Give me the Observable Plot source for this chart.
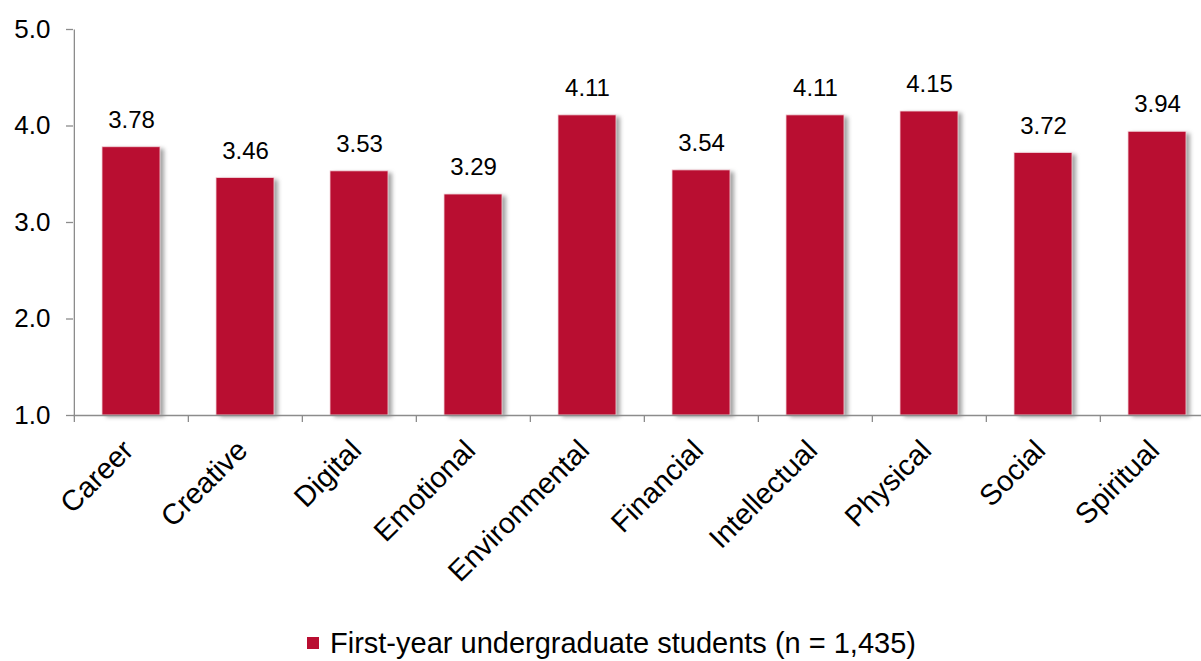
<!DOCTYPE html>
<html>
<head>
<meta charset="utf-8">
<script src="https://cdn.jsdelivr.net/npm/d3@7"></script>
<script src="https://cdn.jsdelivr.net/npm/@observablehq/plot@0.6"></script>
<style>
  html, body { margin: 0; padding: 0; background: #fff; overflow: hidden; }
  body { width: 1201px; height: 661px; font-family: "Liberation Sans", Arial, sans-serif; }
  #legend { position: absolute; left: 307px; top: 624px; height: 38px; display: flex; align-items: center; font-size: 29px; color: #000; white-space: nowrap; }
  #legend .sw { width: 12px; height: 12px; background: #b90e31; margin-right: 11px; }
</style>
</head>
<body>
<div id="chart"></div>
<div id="legend"><span class="sw"></span><span>First-year undergraduate students (n = 1,435)</span></div>
<script>
const categories = ["Career", "Creative", "Digital", "Emotional", "Environmental", "Financial", "Intellectual", "Physical", "Social", "Spiritual"];
const values = [3.78, 3.46, 3.53, 3.29, 4.11, 3.54, 4.11, 4.15, 3.72, 3.94];
const yTicks = [1, 2, 3, 4, 5];
const seriesName = "First-year undergraduate students (n = 1,435)";

const data = categories.map((c, i) => ({category: c, value: values[i]}));
const barColor = "#b90e31";
const axisColor = "#8c8c8c";
const halfStep = (1216 - 73) / categories.length / 2;

const chart = Plot.plot({
  width: 1201,
  height: 615,
  marginTop: 29,
  marginBottom: 200,
  marginLeft: 73,
  marginRight: 0,
  style: {fontFamily: "Liberation Sans, Arial, sans-serif", color: "#000", background: "#fff"},
  x: {domain: categories, range: [73, 1216], paddingInner: 0.49, paddingOuter: 0.245},
  y: {domain: [1, 5]},
  marks: [
    // shadow
    Plot.barY(data, {x: "category", y1: 1, y2: "value", fill: "#555", fillOpacity: 0.55, dx: 4, dy: 2}),
    Plot.barY(data, {x: "category", y1: 1, y2: "value", fill: barColor, stroke: "#f4d6dc", strokeWidth: 0.8}),
    Plot.text(data, {x: "category", y: "value", text: d => d.value.toFixed(2), dy: -27, fontSize: 24, fill: "#000"}),
    Plot.ruleY([1], {stroke: axisColor, strokeWidth: 1.3}),
    Plot.link([0], {x1: () => categories[0], x2: () => categories[0], y1: 1, y2: 5, dx: -halfStep, stroke: axisColor, strokeWidth: 1.3}),
    Plot.axisY({ticks: yTicks, tickFormat: d => d.toFixed(1), tickSize: 7, tickPadding: 16, fontSize: 26, stroke: axisColor, strokeWidth: 1.3, label: null, color: "#000"}),
    Plot.axisX({ticks: categories, tickSize: 7, tickFormat: () => "", dx: -halfStep, stroke: axisColor, strokeWidth: 1.3, label: null}),
    Plot.axisX({ticks: categories, tickSize: 0, tickPadding: 30, tickRotate: -45, fontSize: 29, label: null, dx: -3, fill: "#000"})
  ]
});
document.getElementById("chart").appendChild(chart);
d3.select(chart).style("max-width", "none");
// blur the shadow bars
const gs = d3.select(chart).selectAll("g[aria-label='bar']").nodes();
if (gs.length) d3.select(gs[0]).style("filter", "blur(2px)");
</script>
</body>
</html>
